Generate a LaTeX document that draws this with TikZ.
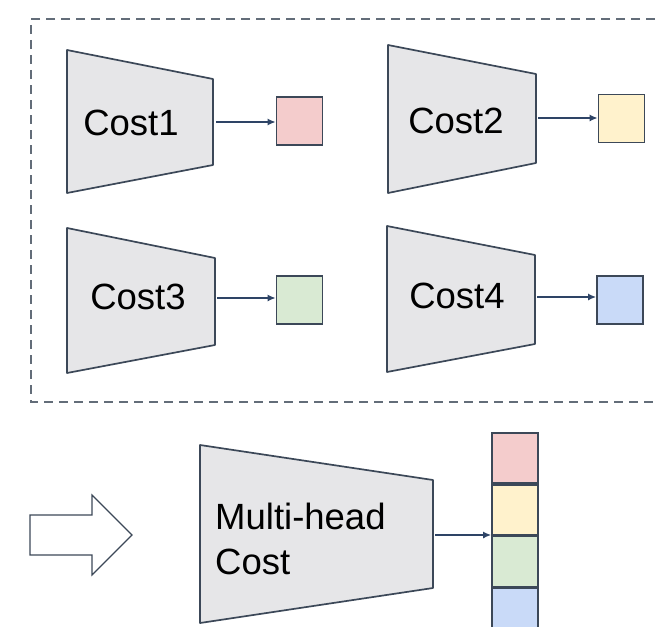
\documentclass[tikz,border=0pt]{standalone}
\usepackage{fontspec}
\setmainfont{Liberation Sans}
\usetikzlibrary{positioning,arrows.meta}

\definecolor{edge}{HTML}{3C4858}
\definecolor{trapfill}{HTML}{E6E6E8}
\definecolor{headred}{HTML}{F4CCCC}
\definecolor{headyellow}{HTML}{FFF2CC}
\definecolor{headgreen}{HTML}{D9EAD3}
\definecolor{headblue}{HTML}{C9DAF8}
\definecolor{arrowblue}{HTML}{2E4466}

\begin{document}
\begin{tikzpicture}[x=1pt, y=-1pt,
  trap/.style={draw=edge, fill=trapfill, line width=1.7pt, line join=round},
  label/.style={font=\fontsize{36.5}{45}\selectfont, inner sep=0pt},
  head/.style={draw=edge, line width=1.7pt, minimum width=46pt, minimum height=48pt, inner sep=0pt},
  link/.style={draw=arrowblue, line width=1.5pt, -{Latex[length=8pt,width=7pt]}}]

\useasboundingbox (0,0) rectangle (658,626);
\clip (0,0) rectangle (658,626);

% dashed frame, open on the right
\draw[edge!80, line width=1.5pt, dash pattern=on 9pt off 6pt]
  (670,19) -- (31,19) -- (31,402) -- (670,402);

% single-head costs
\draw[trap] (67,50) -- (213,79) -- (213,165) -- (67,193) -- cycle;
\draw[trap] (388,45) -- (536,74) -- (536,163) -- (388,193) -- cycle;
\draw[trap] (67,228) -- (215,258) -- (215,345) -- (67,373) -- cycle;
\draw[trap] (387,226) -- (535,255) -- (535,344) -- (387,372) -- cycle;

\node[label] (c1) at (131,123) {Cost1};
\node[label] (c2) at (456,121) {Cost2};
\node[label] (c3) at (138,297) {Cost3};
\node[label] (c4) at (457,296) {Cost4};

\coordinate (t1) at (216,122);
\coordinate (t2) at (538,118);
\coordinate (t3) at (217,298);
\coordinate (t4) at (537,297);

\node[head, fill=headred] (s1) at (299.5,121) {};
\node[head, fill=headyellow] (s2) at (621.5,118.5) {};
\node[head, fill=headgreen] (s3) at (299.5,300) {};
\node[head, fill=headblue] (s4) at (620,300) {};

\draw[link] (t1) -- (t1 -| s1.west);
\draw[link] (t2) -- (t2 -| s2.west);
\draw[link] (t3) -- (t3 -| s3.west);
\draw[link] (t4) -- (t4 -| s4.west);

% hollow arrow
\draw[edge, line width=1.2pt, fill=white, line join=miter]
  (30,515) -- (92,515) -- (92,495) -- (132,535) -- (92,575) -- (92,555) -- (30,555) -- cycle;

% multi-head cost
\draw[trap] (200,445) -- (433,480) -- (433,588) -- (200,623) -- cycle;
\node[label, align=left, anchor=west] (mh) at (215,539) {Multi-head\\Cost};
\coordinate (tm) at (435,535);

\node[head, fill=headred, minimum height=50pt] (h1) at (515,458) {};
\node[head, fill=headyellow, minimum height=50pt, below=0pt of h1] (h2) {};
\node[head, fill=headgreen, minimum height=50pt, below=0pt of h2] (h3) {};
\node[head, fill=headblue, minimum height=50pt, below=0pt of h3] (h4) {};

\draw[link] (tm) -- (tm -| h3.west);

\end{tikzpicture}
\end{document}
